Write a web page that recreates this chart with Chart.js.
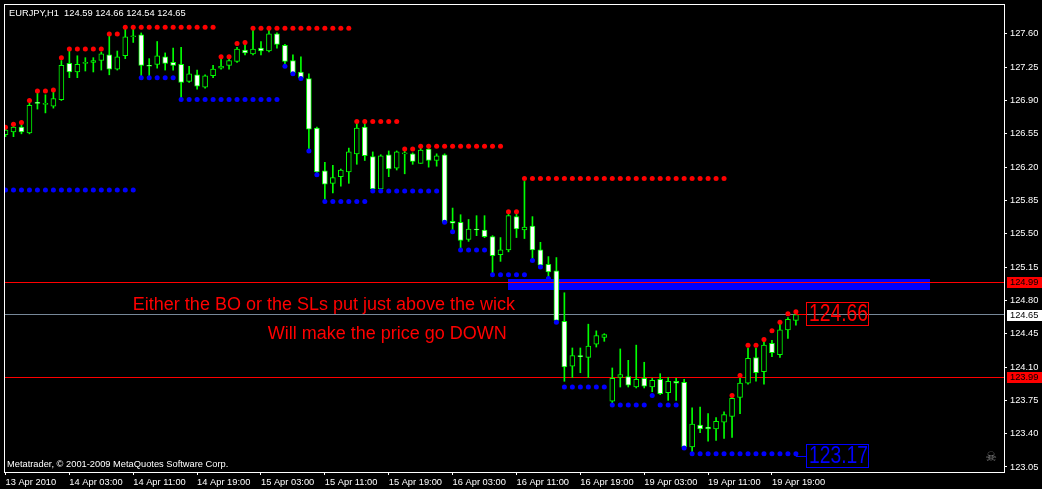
<!DOCTYPE html>
<html lang="en">
<head>
<meta charset="UTF-8">
<title>EURJPY,H1</title>
<script src="https://cdn.jsdelivr.net/npm/chart.js"></script>
<style>
    html, body {
        margin: 0;
        padding: 0;
        background: #000;
        overflow: hidden;
    }
    #wrap {
        width: 1042px;
        height: 489px;
    }
</style>
</head>
<body>
<div id="wrap"><canvas id="chart" width="1042" height="489"></canvas></div>
<script>
    // EURJPY H1 bars, bar 0 = 13 Apr 2010 19:00, bar 99 = 19 Apr 22:00
    const opens = [
        126.54, 126.57, 126.62, 126.56, 126.88, 126.86, 126.84, 126.91, 127.29, 127.20,
        127.29, 127.30, 127.32, 127.38, 127.23, 127.37, 127.57, 127.59, 127.27, 127.28,
        127.36, 127.30, 127.28, 127.10, 127.17, 127.04, 127.16, 127.24, 127.27, 127.31,
        127.43, 127.39, 127.45, 127.42, 127.60, 127.48, 127.32, 127.20, 127.13, 126.61,
        126.16, 126.03, 126.10, 126.15, 126.34, 126.62, 126.31, 125.97, 126.33, 126.19,
        126.34, 126.34, 126.24, 126.39, 126.27, 126.33, 125.63, 125.62, 125.44, 125.55,
        125.54, 125.47, 125.28, 125.33, 125.68, 125.54, 125.58, 125.33, 125.18, 125.11,
        124.58, 124.11, 124.22, 124.20, 124.34, 124.41, 123.74, 123.99, 124.00, 123.89,
        123.98, 123.89, 123.97, 123.83, 123.95, 123.94, 123.26, 123.49, 123.47, 123.45,
        123.52, 123.58, 123.78, 123.93, 124.20, 124.05, 124.35, 124.23, 124.49, 124.59
    ];
    const highs = [
        126.60, 126.66, 126.65, 126.88, 126.98, 126.96, 126.99, 127.32, 127.42, 127.37,
        127.35, 127.35, 127.41, 127.59, 127.42, 127.66, 127.65, 127.61, 127.34, 127.52,
        127.40, 127.45, 127.46, 127.26, 127.22, 127.17, 127.27, 127.34, 127.36, 127.46,
        127.52, 127.64, 127.52, 127.64, 127.61, 127.49, 127.38, 127.36, 127.18, 126.62,
        126.25, 126.22, 126.18, 126.40, 126.66, 126.66, 126.36, 126.33, 126.37, 126.37,
        126.38, 126.35, 126.40, 126.40, 126.34, 126.34, 125.77, 125.70, 125.65, 125.69,
        125.69, 125.48, 125.46, 125.71, 125.71, 126.05, 125.68, 125.41, 125.26, 125.25,
        124.88, 124.30, 124.30, 124.55, 124.48, 124.45, 124.09, 124.29, 124.17, 124.33,
        124.15, 123.98, 124.03, 123.99, 123.98, 123.97, 123.67, 123.68, 123.61, 123.57,
        123.63, 123.79, 124.03, 124.30, 124.30, 124.38, 124.38, 124.57, 124.62, 124.66
    ];
    const lows = [
        126.52, 126.52, 126.55, 126.55, 126.81, 126.77, 126.82, 126.90, 127.14, 127.14,
        127.21, 127.20, 127.22, 127.17, 127.22, 127.34, 127.51, 127.16, 127.16, 127.24,
        127.22, 127.22, 126.92, 127.09, 127.02, 127.03, 127.14, 127.23, 127.23, 127.30,
        127.38, 127.38, 127.38, 127.41, 127.45, 127.27, 127.18, 127.12, 126.38, 126.12,
        125.86, 125.93, 126.00, 126.03, 126.23, 126.27, 125.96, 125.96, 126.10, 126.17,
        126.13, 126.23, 126.24, 126.20, 126.21, 125.61, 125.54, 125.35, 125.42, 125.48,
        125.46, 125.08, 125.21, 125.31, 125.46, 125.45, 125.23, 125.16, 125.05, 124.58,
        123.95, 123.99, 124.04, 123.99, 124.31, 124.37, 123.72, 123.89, 123.89, 123.88,
        123.88, 123.84, 123.81, 123.75, 123.75, 123.24, 123.21, 123.41, 123.32, 123.33,
        123.35, 123.36, 123.61, 123.92, 123.95, 123.92, 124.21, 124.20, 124.40, 124.54
    ];
    const closes = [
        126.59, 126.62, 126.57, 126.85, 126.87, 126.87, 126.92, 127.27, 127.20, 127.28,
        127.30, 127.32, 127.39, 127.23, 127.36, 127.57, 127.58, 127.27, 127.26, 127.37,
        127.29, 127.27, 127.09, 127.18, 127.05, 127.16, 127.23, 127.26, 127.32, 127.44,
        127.40, 127.44, 127.42, 127.60, 127.49, 127.31, 127.19, 127.14, 126.60, 126.15,
        126.02, 126.09, 126.17, 126.36, 126.61, 126.32, 125.97, 126.32, 126.18, 126.36,
        126.35, 126.26, 126.38, 126.27, 126.32, 125.62, 125.61, 125.43, 125.55, 125.54,
        125.47, 125.27, 125.33, 125.69, 125.55, 125.57, 125.33, 125.17, 125.10, 124.59,
        124.10, 124.22, 124.21, 124.32, 124.43, 124.44, 123.98, 124.02, 123.91, 123.97,
        123.90, 123.96, 123.82, 123.95, 123.93, 123.26, 123.50, 123.45, 123.45, 123.53,
        123.60, 123.77, 123.93, 124.19, 124.04, 124.33, 124.25, 124.49, 124.60, 124.65
    ];

    // fractal dots: [first bar, last bar, level]
    const upperDots = [
        [0, 0, 126.62], [1, 1, 126.65], [2, 2, 126.67], [3, 3, 126.90], [4, 5, 127.00],
        [6, 6, 127.01], [7, 7, 127.35], [8, 12, 127.44], [13, 14, 127.60], [15, 26, 127.67],
        [27, 28, 127.36], [29, 29, 127.50], [30, 30, 127.51], [31, 43, 127.66], [44, 49, 126.68],
        [50, 51, 126.39], [52, 62, 126.42], [63, 64, 125.73], [65, 90, 126.08], [91, 91, 123.80],
        [92, 92, 124.01], [93, 94, 124.33], [95, 95, 124.39], [96, 96, 124.48], [97, 97, 124.57],
        [98, 98, 124.66], [99, 99, 124.68]
    ];
    const lowerDots = [
        [0, 16, 125.96], [17, 21, 127.14], [22, 34, 126.91], [35, 35, 127.26], [36, 36, 127.18],
        [37, 37, 127.13], [38, 38, 126.37], [39, 39, 126.12], [40, 45, 125.84], [46, 54, 125.95],
        [55, 55, 125.62], [56, 56, 125.52], [57, 60, 125.33], [61, 65, 125.07], [66, 66, 125.22],
        [67, 67, 125.15], [68, 68, 125.03], [69, 69, 124.57], [70, 75, 123.89], [76, 80, 123.70],
        [81, 81, 123.80], [82, 84, 123.70], [85, 85, 123.25], [86, 99, 123.19]
    ];

    const timeTickBars = [0, 8, 16, 24, 32, 40, 48, 56, 64, 72, 80, 88, 96];
    const timeTickLabels = [
        '13 Apr 2010', '14 Apr 03:00', '14 Apr 11:00', '14 Apr 19:00', '15 Apr 03:00',
        '15 Apr 11:00', '15 Apr 19:00', '16 Apr 03:00', '16 Apr 11:00', '16 Apr 19:00',
        '19 Apr 03:00', '19 Apr 11:00', '19 Apr 19:00'
    ];
    const priceTicks = [127.60, 127.25, 126.90, 126.55, 126.20, 125.85, 125.50,
                        125.15, 124.80, 124.45, 124.10, 123.75, 123.40, 123.05];

    // objects on the chart
    const redLevels = [124.99, 123.99];
    const bidLevel = 124.65;
    const zoneTop = 125.02, zoneBottom = 124.91, zoneFromBar = 63, zoneToBar = 115.8;
    const noteTexts = ['Either the BO or the SLs put just above the wick', 'Will make the price go DOWN'];
    const noteBars = [15.95, 32.85];
    const notePrices = [124.75, 124.45];
    const labelBar = 100.3;
    const highLabel = 124.66, lowLabel = 123.17;
    const titleText = 'EURJPY,H1  124.59 124.66 124.54 124.65';
    const copyrightText = 'Metatrader, \u00A9 2001-2009 MetaQuotes Software Corp.';

    const uiFont = "'Liberation Sans', Arial, sans-serif";
    const green = '#00ff00';

    function expandDots(segments) {
        const pts = [];
        segments.forEach(([from, to, level]) => {
            for (let i = from; i <= to; i++) pts.push({x: i, y: level});
        });
        return pts;
    }

    const bodies = opens.map((o, i) => ({x: i, y: [o, closes[i]]}));
    const wicks = highs.map((h, i) => ({x: i, y: [lows[i], h]}));
    const bodyColors = opens.map((o, i) => closes[i] >= o ? '#000000' : '#ffffff');

    function priceBox(ctx, xs, ys, price, color) {
        const bx = Math.round(xs.getPixelForValue(labelBar));
        const py = Math.round(ys.getPixelForValue(price));
        const dotX = xs.getPixelForValue(opens.length - 1);
        ctx.strokeStyle = color;
        ctx.lineWidth = 1;
        ctx.beginPath();
        ctx.moveTo(dotX, py + 0.5);
        ctx.lineTo(bx, py + 0.5);
        ctx.stroke();
        ctx.strokeRect(bx + 0.5, py - 11.5, 62, 23);
        ctx.save();
        ctx.translate(bx + 3, py + 1);
        ctx.scale(0.84, 1);
        ctx.font = '23px ' + uiFont;
        ctx.fillStyle = color;
        ctx.textBaseline = 'middle';
        ctx.textAlign = 'left';
        ctx.fillText(price.toFixed(2), 0, 0);
        ctx.restore();
    }

    function axisTag(ctx, area, ys, price, bg) {
        const py = Math.round(ys.getPixelForValue(price));
        ctx.fillStyle = bg;
        ctx.fillRect(area.right + 3, py - 5, 35, 11);
        ctx.fillStyle = '#000';
        ctx.font = '9.3px ' + uiFont;
        ctx.textBaseline = 'middle';
        ctx.textAlign = 'left';
        ctx.fillText(price.toFixed(2), area.right + 6, py + 0.5);
    }

    const mtOverlay = {
        id: 'mtOverlay',
        beforeDatasetsDraw(chart) {
            const {ctx, chartArea: a, scales: {x, y}} = chart;
            ctx.save();
            const zx1 = Math.round(x.getPixelForValue(zoneFromBar));
            const zx2 = Math.round(x.getPixelForValue(zoneToBar));
            const zy1 = Math.round(y.getPixelForValue(zoneTop));
            const zy2 = Math.round(y.getPixelForValue(zoneBottom));
            ctx.fillStyle = '#0000ff';
            ctx.fillRect(zx1, zy1, zx2 - zx1, zy2 - zy1);

            ctx.lineWidth = 1;
            redLevels.forEach(v => {
                const py = Math.floor(y.getPixelForValue(v)) + 0.5;
                ctx.strokeStyle = '#ff0000';
                ctx.beginPath();
                ctx.moveTo(a.left, py);
                ctx.lineTo(a.right, py);
                ctx.stroke();
            });
            const by = Math.floor(y.getPixelForValue(bidLevel)) + 0.5;
            ctx.strokeStyle = '#778899';
            ctx.beginPath();
            ctx.moveTo(a.left, by);
            ctx.lineTo(a.right, by);
            ctx.stroke();
            ctx.restore();
        },
        afterDatasetsDraw(chart) {
            const {ctx, chartArea: a, scales: {x, y}} = chart;
            ctx.save();
            // notes
            ctx.fillStyle = '#ff0000';
            ctx.font = '18px ' + uiFont;
            ctx.textBaseline = 'middle';
            ctx.textAlign = 'left';
            noteTexts.forEach((t, i) => {
                ctx.fillText(t, x.getPixelForValue(noteBars[i]), y.getPixelForValue(notePrices[i]));
            });

            priceBox(ctx, x, y, highLabel, '#ff0000');
            priceBox(ctx, x, y, lowLabel, '#0000ff');

            // title and copyright
            ctx.fillStyle = '#ffffff';
            ctx.font = '9.3px ' + uiFont;
            ctx.textBaseline = 'middle';
            ctx.fillText(titleText, a.left + 5, a.top + 9);
            ctx.fillText(copyrightText, a.left + 3, a.bottom - 8);

            ctx.fillStyle = '#808080';
            ctx.font = "13px 'DejaVu Sans', sans-serif";
            ctx.textAlign = 'center';
            ctx.fillText('\u2620', a.right - 13, a.bottom - 14);

            // frame
            ctx.strokeStyle = '#ffffff';
            ctx.lineWidth = 1;
            ctx.strokeRect(a.left + 0.5, a.top + 0.5, a.right - a.left, a.bottom - a.top);
            ctx.restore();
        },
        afterDraw(chart) {
            const {ctx, chartArea: a, scales: {y}} = chart;
            ctx.save();
            axisTag(ctx, a, y, redLevels[0], '#ff0000');
            axisTag(ctx, a, y, bidLevel, '#ffffff');
            axisTag(ctx, a, y, redLevels[1], '#ff0000');
            ctx.restore();
        }
    };

    const ctx = document.getElementById('chart').getContext('2d');
    new Chart(ctx, {
        type: 'bar',
        data: {
            datasets: [
                {
                    type: 'scatter',
                    data: expandDots(upperDots),
                    backgroundColor: '#ff0000',
                    borderWidth: 0,
                    pointRadius: 2.5,
                    order: 0
                },
                {
                    type: 'scatter',
                    data: expandDots(lowerDots),
                    backgroundColor: '#0000ff',
                    borderWidth: 0,
                    pointRadius: 2.5,
                    order: 0
                },
                {
                    data: bodies,
                    grouped: false,
                    barThickness: 5,
                    borderWidth: 1,
                    borderColor: green,
                    borderSkipped: false,
                    backgroundColor: bodyColors,
                    order: 1
                },
                {
                    data: wicks,
                    grouped: false,
                    barThickness: 1,
                    borderWidth: 0,
                    backgroundColor: green,
                    order: 2
                }
            ]
        },
        options: {
            responsive: false,
            animation: false,
            layout: {padding: {top: 2, left: 2, right: 0, bottom: 0}},
            plugins: {
                legend: {display: false},
                tooltip: {enabled: false}
            },
            scales: {
                x: {
                    type: 'linear',
                    min: -0.1875,
                    max: 125.0625,
                    offset: false,
                    afterBuildTicks: ax => { ax.ticks = timeTickBars.map(v => ({value: v})); },
                    afterFit: ax => {
                        ax.height = 17;
                        ax.paddingLeft = 0;
                        ax.paddingRight = 0;
                    },
                    grid: {drawOnChartArea: false, drawTicks: true, tickLength: 3, color: '#ffffff', offset: false},
                    border: {color: '#ffffff', width: 1},
                    ticks: {
                        autoSkip: false,
                        maxRotation: 0,
                        align: 'start',
                        padding: 2,
                        color: '#ffffff',
                        font: {family: uiFont, size: 9.3},
                        callback: (v, i) => timeTickLabels[i]
                    }
                },
                y: {
                    type: 'linear',
                    position: 'right',
                    min: 122.997,
                    max: 127.914,
                    afterBuildTicks: ax => { ax.ticks = priceTicks.map(v => ({value: v})); },
                    afterFit: ax => {
                        ax.width = 38;
                        ax.paddingTop = 0;
                        ax.paddingBottom = 0;
                    },
                    grid: {drawOnChartArea: false, drawTicks: true, tickLength: 3, color: '#ffffff'},
                    border: {color: '#ffffff', width: 1},
                    ticks: {
                        padding: 3,
                        color: '#ffffff',
                        font: {family: uiFont, size: 9.3},
                        callback: v => v.toFixed(2)
                    }
                }
            }
        },
        plugins: [mtOverlay]
    });
</script>
</body>
</html>
